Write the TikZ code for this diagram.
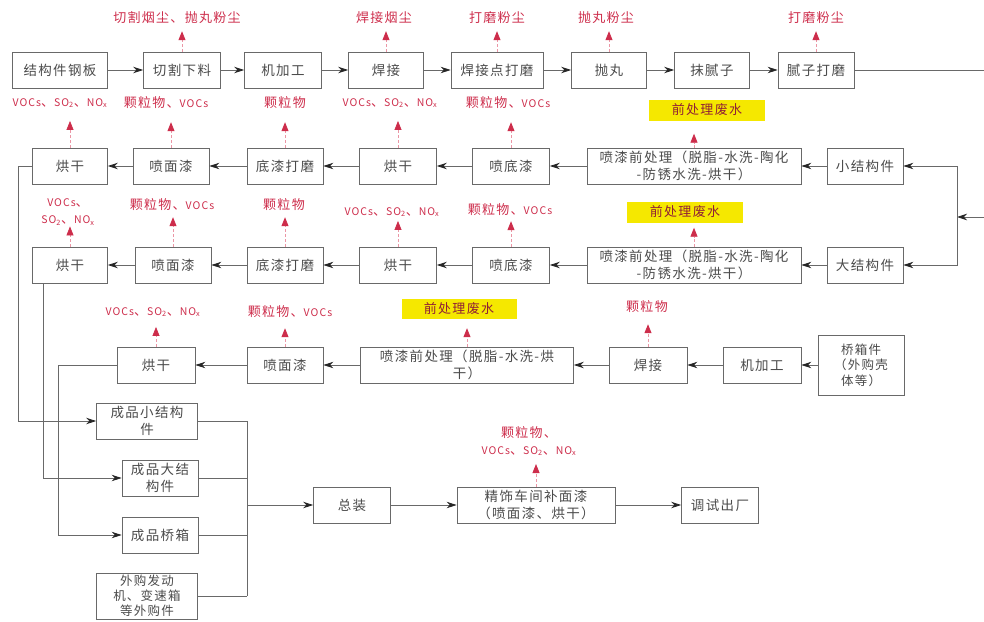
\documentclass[tikz,border=0pt]{standalone}
\usepackage{fontspec}
\setmainfont{Noto Sans CJK SC}[LetterSpace=10]
\usepackage{xcolor}
\usepackage{tikz}
\usetikzlibrary{arrows.meta,shapes}
\newcommand{\en}[1]{{\fontsize{10.5}{12}\selectfont #1}}  % 标签中的英文略小

\begin{document}
\begin{tikzpicture}[x=1pt,y=-1pt]
    \definecolor{mygray}{RGB}{105,105,105}
    \definecolor{mytext}{RGB}{75,75,75}
    \definecolor{myred}{RGB}{205,45,75}
    \definecolor{mypink}{RGB}{235,150,165}
    \definecolor{myyellow}{RGB}{245,232,0}

    \tikzstyle{format}=[rectangle,draw=mygray,line width=0.8pt,fill=white,text=mytext,align=center,minimum height=36pt,inner sep=1pt,font=\fontsize{13.5}{17}\selectfont]  % 工序框
    \tikzstyle{gas}=[text=myred,align=center,inner sep=1pt,font=\fontsize{13}{17}\selectfont]  % 废气、粉尘
    \tikzstyle{water}=[fill=myyellow,text=myred!70!black,minimum width=116pt,minimum height=21pt,inner sep=0pt,font=\fontsize{13}{15}\selectfont]  % 废水
    \tikzstyle{line}=[draw=mygray,line width=0.8pt]  % 连接线
    \tikzstyle{go}=[line,-{Stealth[length=10pt,width=6.5pt,color=black!85]}]
    \tikzstyle{emit}=[draw=mypink,densely dashed,line width=0.8pt,-{Triangle[length=9pt,width=7pt,color=myred]}]

    \useasboundingbox (0,0) rectangle (984,621);

    % 第一行：下料到腻子打磨
    \node[format,minimum width=95pt](a1) at (60,70){结构件钢板};
    \node[format,minimum width=77pt](a2) at (182,70){切割下料};
    \node[format,minimum width=77pt](a3) at (283,70){机加工};
    \node[format,minimum width=75pt](a4) at (386,70){焊接};
    \node[format,minimum width=92pt](a5) at (497,70){焊接点打磨};
    \node[format,minimum width=75pt](a6) at (609,70){抛丸};
    \node[format,minimum width=75pt](a7) at (712,70){抹腻子};
    \node[format,minimum width=76pt](a8) at (816,70){腻子打磨};
    \node[gas](la2) at (177,18){切割烟尘、抛丸粉尘};
    \node[gas](la4) at (384,18){焊接烟尘};
    \node[gas](la5) at (497,18){打磨粉尘};
    \node[gas](la6) at (606,18){抛丸粉尘};
    \node[gas](la8) at (816,18){打磨粉尘};

    % 第二行：小结构件
    \node[format,minimum width=76pt](b1) at (865,166){小结构件};
    \node[format,minimum width=214pt](b2) at (694,166){喷漆前处理（脱脂-水洗-陶化\\-防锈水洗-烘干）};
    \node[format,minimum width=77pt](b3) at (511,166){喷底漆};
    \node[format,minimum width=77pt](b4) at (398,166){烘干};
    \node[format,minimum width=76pt](b5) at (285,166){底漆打磨};
    \node[format,minimum width=76pt](b6) at (171,166){喷面漆};
    \node[format,minimum width=75pt](b7) at (70,166){烘干};
    \node[gas](lb7) at (60,103){\en{VOCs}、\en{SO\textsubscript{2}}、\en{NO\textsubscript{x}}};
    \node[gas](lb6) at (166,103){颗粒物、\en{VOCs}};
    \node[gas](lb5) at (285,103){颗粒物};
    \node[gas](lb4) at (390,103){\en{VOCs}、\en{SO\textsubscript{2}}、\en{NO\textsubscript{x}}};
    \node[gas](lb3) at (508,103){颗粒物、\en{VOCs}};
    \node[water](lb2) at (707,110){前处理废水};

    % 第三行：大结构件
    \node[format,minimum width=76pt](c1) at (865,265){大结构件};
    \node[format,minimum width=214pt](c2) at (694,265){喷漆前处理（脱脂-水洗-陶化\\-防锈水洗-烘干）};
    \node[format,minimum width=77pt](c3) at (511,265){喷底漆};
    \node[format,minimum width=77pt](c4) at (398,265){烘干};
    \node[format,minimum width=76pt](c5) at (285,265){底漆打磨};
    \node[format,minimum width=76pt](c6) at (173,265){喷面漆};
    \node[format,minimum width=75pt](c7) at (70,265){烘干};
    \node[gas](lc7) at (68,212){\en{VOCs}、\\\en{SO\textsubscript{2}}、\en{NO\textsubscript{x}}};
    \node[gas](lc6) at (172,205){颗粒物、\en{VOCs}};
    \node[gas](lc5) at (284,205){颗粒物};
    \node[gas](lc4) at (392,212){\en{VOCs}、\en{SO\textsubscript{2}}、\en{NO\textsubscript{x}}};
    \node[gas](lc3) at (510,210){颗粒物、\en{VOCs}};
    \node[water](lc2) at (685,212){前处理废水};

    % 第四行：桥箱件
    \node[format,minimum width=86pt,minimum height=60pt,font=\fontsize{12.5}{15.5}\selectfont](d1) at (861,365){桥箱件\\（外购壳\\体等）};
    \node[format,minimum width=78pt](d2) at (762,365){机加工};
    \node[format,minimum width=78pt](d3) at (648,365){焊接};
    \node[format,minimum width=213pt](d4) at (467,365){喷漆前处理（脱脂-水洗-烘\\干）};
    \node[format,minimum width=76pt](d5) at (285,365){喷面漆};
    \node[format,minimum width=78pt](d6) at (156,365){烘干};
    \node[gas](ld6) at (153,312){\en{VOCs}、\en{SO\textsubscript{2}}、\en{NO\textsubscript{x}}};
    \node[gas](ld5) at (290,312){颗粒物、\en{VOCs}};
    \node[water,minimum width=115pt,minimum height=20pt](ld4) at (459,309){前处理废水};
    \node[gas](ld3) at (647,307){颗粒物};

    % 成品与总装
    \node[format,minimum width=101pt](e1) at (147,421){成品小结构\\件};
    \node[format,minimum width=76pt](e2) at (160,478){成品大结\\构件};
    \node[format,minimum width=76pt](e3) at (160,535){成品桥箱};
    \node[format,minimum width=101pt,minimum height=46pt,font=\fontsize{12.5}{15}\selectfont](e4) at (147,596){外购发动\\机、变速箱\\等外购件};
    \node[format,minimum width=77pt](f1) at (352,505){总装};
    \node[format,minimum width=158pt](f2) at (536,505){精饰车间补面漆\\（喷面漆、烘干）};
    \node[format,minimum width=77pt](f3) at (720,505){调试出厂};
    \node[gas](lf2) at (529,441){颗粒物、\\\en{VOCs}、\en{SO\textsubscript{2}}、\en{NO\textsubscript{x}}};

    % 辅助点
    \coordinate (r1) at (984,70);
    \coordinate (r2) at (984,217);
    \coordinate (j1) at (957,217);
    \coordinate (l1) at (18,0);
    \coordinate (l2) at (43,0);
    \coordinate (l3) at (58,0);
    \coordinate (m) at (247,0);

    % 开始画线
    \draw[go](a1)--(a2);
    \draw[go](a2)--(a3);
    \draw[go](a3)--(a4);
    \draw[go](a4)--(a5);
    \draw[go](a5)--(a6);
    \draw[go](a6)--(a7);
    \draw[go](a7)--(a8);
    \draw[line](a8.east)--(r1);
    \draw[go](r2)--(j1);
    \draw[go](j1)|-(b1.east);
    \draw[go](j1)|-(c1.east);

    \draw[go](b1)--(b2);
    \draw[go](b2)--(b3);
    \draw[go](b3)--(b4);
    \draw[go](b4)--(b5);
    \draw[go](b5)--(b6);
    \draw[go](b6)--(b7);

    \draw[go](c1)--(c2);
    \draw[go](c2)--(c3);
    \draw[go](c3)--(c4);
    \draw[go](c4)--(c5);
    \draw[go](c5)--(c6);
    \draw[go](c6)--(c7);

    \draw[go](d1)--(d2);
    \draw[go](d2)--(d3);
    \draw[go](d3)--(d4);
    \draw[go](d4)--(d5);
    \draw[go](d5)--(d6);

    \draw[go](b7.west)--(b7.west -| l1)|-(e1.west);
    \draw[go](c7.south -| l2)|-(e2.west);
    \draw[go](d6.west)--(d6.west -| l3)|-(e3.west);

    \draw[line](e1.east)--(e1.east -| m);
    \draw[line](e2.east)--(e2.east -| m);
    \draw[line](e3.east)--(e3.east -| m);
    \draw[line](e4.east)--(e4.east -| m);
    \draw[line](e1.east -| m)--(e4.east -| m);
    \draw[go](f1.west -| m)--(f1.west);
    \draw[go](f1)--(f2);
    \draw[go](f2)--(f3);

    % 排放
    \draw[emit,shorten >=6pt](a2.north)--(a2.north |- la2.south);
    \draw[emit,shorten >=6pt](a4.north)--(a4.north |- la4.south);
    \draw[emit,shorten >=6pt](a5.north)--(a5.north |- la5.south);
    \draw[emit,shorten >=6pt](a6.north)--(a6.north |- la6.south);
    \draw[emit,shorten >=6pt](a8.north)--(a8.north |- la8.south);
    \draw[emit,shorten >=12pt](b7.north)--(b7.north |- lb7.south);
    \draw[emit,shorten >=12pt](b6.north)--(b6.north |- lb6.south);
    \draw[emit,shorten >=12pt](b5.north)--(b5.north |- lb5.south);
    \draw[emit,shorten >=12pt](b4.north)--(b4.north |- lb4.south);
    \draw[emit,shorten >=12pt](b3.north)--(b3.north |- lb3.south);
    \draw[emit,shorten >=13pt](b2.north)--(b2.north |- lb2.south);
    \draw[emit,shorten >=0pt](c7.north)--(c7.north |- lc7.south);
    \draw[emit,shorten >=5pt](c6.north)--(c6.north |- lc6.south);
    \draw[emit,shorten >=5pt](c5.north)--(c5.north |- lc5.south);
    \draw[emit,shorten >=3pt](c4.north)--(c4.north |- lc4.south);
    \draw[emit,shorten >=4pt](c3.north)--(c3.north |- lc3.south);
    \draw[emit,shorten >=5pt](c2.north)--(c2.north |- lc2.south);
    \draw[emit,shorten >=9pt](d6.north)--(d6.north |- ld6.south);
    \draw[emit,shorten >=9pt](d5.north)--(d5.north |- ld5.south);
    \draw[emit,shorten >=9pt](d4.north)--(d4.north |- ld4.south);
    \draw[emit,shorten >=10pt](d3.north)--(d3.north |- ld3.south);
    \draw[emit,shorten >=7pt](f2.north)--(f2.north |- lf2.south);
\end{tikzpicture}
\end{document}
